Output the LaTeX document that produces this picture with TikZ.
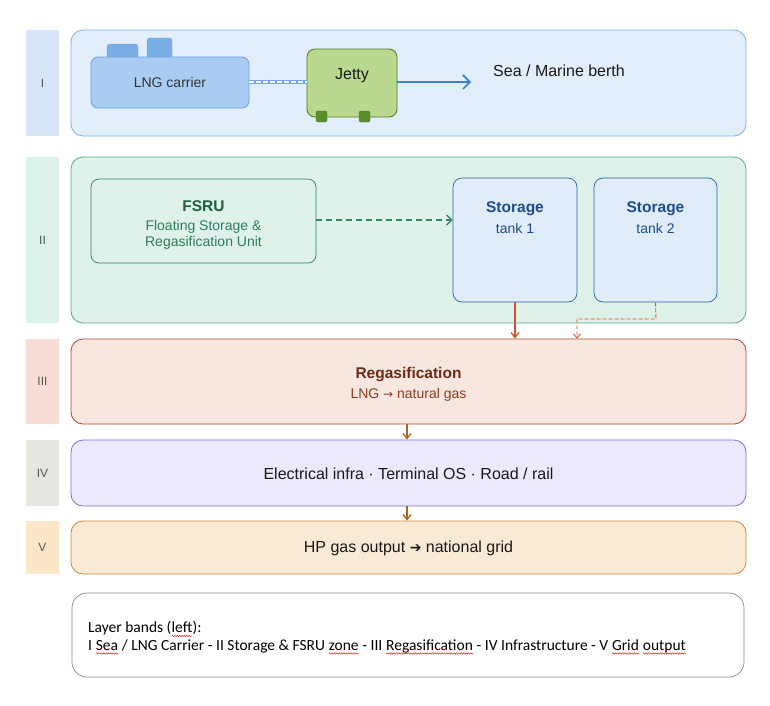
\documentclass[tikz,border=0pt]{standalone}
\usepackage{fontspec}
\setmainfont{Liberation Sans}
\newfontfamily\arrowfont{DejaVu Sans}
\newfontfamily\notefont{Carlito}
\usetikzlibrary{arrows.meta,decorations.pathmorphing}

\definecolor{SeaFill}{HTML}{E2EEF9}
\definecolor{SeaLine}{HTML}{7FB0E6}
\definecolor{SeaBand}{HTML}{D6E6F8}
\definecolor{ShipFill}{HTML}{AACCF2}
\definecolor{ShipLine}{HTML}{6AA0E0}
\definecolor{DomeFill}{HTML}{7BAEE6}
\definecolor{FlowBlue}{HTML}{3A7FD8}
\definecolor{JettyFill}{HTML}{B9D98E}
\definecolor{JettyLine}{HTML}{4A7A2A}
\definecolor{JettyFoot}{HTML}{5A8E2A}
\definecolor{ZoneFill}{HTML}{DFF2EA}
\definecolor{ZoneLine}{HTML}{52AE86}
\definecolor{ZoneBand}{HTML}{DCF1E8}
\definecolor{FsruLine}{HTML}{2E7D5A}
\definecolor{FsruText}{HTML}{1F5E42}
\definecolor{TankFill}{HTML}{E0ECF8}
\definecolor{TankLine}{HTML}{2A5EA8}
\definecolor{TankText}{HTML}{1F4C8A}
\definecolor{RegasFill}{HTML}{F8E7E0}
\definecolor{RegasLine}{HTML}{B0482C}
\definecolor{RegasBand}{HTML}{F8DDD6}
\definecolor{RegasText}{HTML}{6E2A14}
\definecolor{RegasSub}{HTML}{8E3A20}
\definecolor{FlowRed}{HTML}{D4502A}
\definecolor{FlowBrown}{HTML}{B0661A}
\definecolor{InfraFill}{HTML}{EBE9FC}
\definecolor{InfraLine}{HTML}{7A70D0}
\definecolor{InfraBand}{HTML}{E6E6E0}
\definecolor{GridFill}{HTML}{F9EAD6}
\definecolor{GridLine}{HTML}{C8883A}
\definecolor{GridBand}{HTML}{FBE6C8}
\definecolor{BandText}{HTML}{555555}
\definecolor{NoteLine}{HTML}{888888}
\definecolor{SpellRed}{HTML}{E03030}

% word with a spell-check squiggle under it
\newcommand{\spellword}[1]{\tikz[baseline=(sw.base)]{\node[inner sep=0pt, outer sep=0pt] (sw) {#1};
    \draw[SpellRed, line width=0.5pt, decorate, decoration={snake, amplitude=0.7pt, segment length=2.4pt}] ([yshift=-3pt]sw.base west) -- ([yshift=-3pt]sw.base east);}}

\begin{document}
\begin{tikzpicture}[x=1pt, y=-1pt,
    band/.style={minimum width=33pt, inner sep=0pt, text=BandText, font=\fontsize{12}{14}\selectfont},
    layer/.style={draw, rounded corners=12pt, line width=0.8pt, minimum width=675pt, inner sep=0pt},
    title/.style={font=\bfseries\fontsize{15.5}{18}\selectfont},
    sub/.style={font=\fontsize{14}{17}\selectfont},
    flowdown/.style={-{Straight Barb[length=5pt, width=8pt]}, line width=1.3pt}]
    \useasboundingbox (0,0) rectangle (770,705);

    % Layer bands on the left
    \node[band, fill=SeaBand, minimum height=106pt] (bandI) at (42.5,83) {I};
    \node[band, fill=ZoneBand, minimum height=166pt] (bandII) at (42.5,240) {II};
    \node[band, fill=RegasBand, minimum height=85pt] (bandIII) at (42.5,381.5) {III};
    \node[band, fill=InfraBand, minimum height=66pt] (bandIV) at (42.5,473) {IV};
    \node[band, fill=GridBand, minimum height=53pt] (bandV) at (42.5,547.5) {V};

    % Layer I: sea / marine berth
    \node[layer, draw=SeaLine, fill=SeaFill, minimum height=106pt] (sea) at (408.5,83) {};
    \node[draw=ShipLine, fill=DomeFill, rounded corners=3pt, minimum width=31pt, minimum height=19pt, inner sep=0pt] (domeA) at (122.5,53.5) {};
    \node[draw=ShipLine, fill=DomeFill, rounded corners=3pt, minimum width=25pt, minimum height=24pt, inner sep=0pt] (domeB) at (159.5,50) {};
    \node[draw=ShipLine, fill=ShipFill, rounded corners=7pt, line width=0.8pt, minimum width=158pt, minimum height=51pt, sub, text=black!80] (carrier) at (170,82.5) {LNG carrier};
    \node[draw=JettyLine, fill=JettyFill, rounded corners=8pt, line width=0.8pt, minimum width=90pt, minimum height=68pt, inner sep=0pt] (jetty) at (352,83) {};
    \node[font=\fontsize{16}{18}\selectfont, text=black!90] (jettytext) at (352,75.5) {Jetty};
    \node[fill=JettyFoot, draw=JettyLine, rounded corners=2pt, minimum size=11pt, inner sep=0pt] (footA) at (321.5,116.5) {};
    \node[fill=JettyFoot, draw=JettyLine, rounded corners=2pt, minimum size=11pt, inner sep=0pt] (footB) at (364.5,116.5) {};
    \node[font=\fontsize{16}{18}\selectfont, text=black!90, anchor=west, inner sep=0pt] (berth) at (493,70.5) {Sea / Marine berth};
    \coordinate (berthend) at (471,82);

    % Carrier to jetty hose and jetty to sea
    \draw[FlowBlue!70, line width=3.4pt] (carrier.east |- 0,82) -- (jetty.west |- 0,82);
    \draw[white, line width=1.1pt, dash pattern=on 5pt off 2pt] (carrier.east |- 0,82) -- (jetty.west |- 0,82);
    \draw[FlowBlue, line width=1.6pt, -{Straight Barb[length=7pt, width=14pt]}] (jetty.east |- 0,82) -- (berthend);

    % Layer II: storage & FSRU zone
    \node[layer, draw=ZoneLine, fill=ZoneFill, minimum height=166pt] (zone) at (408.5,240) {};
    \node[draw=FsruLine, fill=ZoneFill, rounded corners=8pt, line width=0.7pt, minimum width=225pt, minimum height=84pt] (fsru) at (203.5,221) {};
    \node[title, text=FsruText] (fsrutitle) at (203.5,206) {FSRU};
    \node[font=\fontsize{14}{16}\selectfont, text=FsruLine, align=center] (fsrusub) at (203.5,234.5) {Floating Storage \&\\Regasification Unit};
    \node[draw=TankLine, fill=TankFill, rounded corners=9pt, line width=0.7pt, minimum width=124pt, minimum height=124pt] (tankA) at (515,240) {};
    \node[draw=TankLine, fill=TankFill, rounded corners=9pt, line width=0.7pt, minimum width=123pt, minimum height=124pt] (tankB) at (655.5,240) {};
    \node[title, text=TankText] (tankAtitle) at (515,209) {Storage};
    \node[sub, text=TankText] (tankAsub) at (515,228) {tank 1};
    \node[title, text=TankText] (tankBtitle) at (655.5,209) {Storage};
    \node[sub, text=TankText] (tankBsub) at (655.5,228) {tank 2};

    % FSRU to storage
    \draw[FsruLine!80!ZoneLine, line width=1.4pt, dash pattern=on 6pt off 4pt, -{Straight Barb[length=5pt, width=10pt]}] (fsru.east |- 0,220) -- (tankA.west |- 0,220);

    % Layer III: regasification
    \node[layer, draw=RegasLine, fill=RegasFill, minimum height=85pt] (regas) at (408.5,381.5) {};
    \node[title, text=RegasText] (regastitle) at (408.5,374.5) {Regasification};
    \node[sub, text=RegasSub] (regassub) at (408.5,394.5) {LNG {\arrowfont\fontsize{12}{14}\selectfont →} natural gas};

    % Storage to regasification
    \coordinate (bendA) at (656,319);
    \coordinate (bendB) at (577,319);
    \draw[FlowRed, flowdown] (tankA.south) -- (regas.north -| tankA.south);
    \draw[FlowRed, line width=0.9pt, dash pattern=on 4pt off 2pt, -{Straight Barb[length=4pt, width=7pt]}] (tankB.south) -- (bendA) -- (bendB) -- (regas.north -| bendB);

    % Layer IV: infrastructure
    \node[layer, draw=InfraLine, fill=InfraFill, minimum height=66pt] (infra) at (408.5,473) {};
    \node[font=\fontsize{16}{18}\selectfont, text=black!90] (infratext) at (408.5,473.5) {Electrical infra · Terminal OS · Road / rail};

    % Layer V: grid output
    \node[layer, draw=GridLine, fill=GridFill, minimum height=53pt] (grid) at (408.5,547.5) {};
    \node[font=\fontsize{16}{18}\selectfont, text=black!90] (gridtext) at (408.5,548.5) {HP gas output {\arrowfont\fontsize{14}{16}\selectfont ➔} national grid};

    % Flow between layers
    \draw[FlowBrown, flowdown] (regas.south -| 407,0) -- (infra.north -| 407,0);
    \draw[FlowBrown, flowdown] (infra.south -| 407,0) -- (grid.north -| 407,0);

    % Note box
    \node[draw=NoteLine, fill=white, rounded corners=15pt, line width=0.7pt, minimum width=672pt, minimum height=84pt] (note) at (408,635) {};
    \node[font=\notefont\fontsize{15.5}{17.5}\selectfont, anchor=west, align=left, inner sep=0pt] (notetext) at (88,638) {Layer bands (\spellword{left}):\\I \spellword{Sea} / LNG Carrier - II Storage \& FSRU \spellword{zone} - III \spellword{Regasification} - IV Infrastructure - V \spellword{Grid} \spellword{output}};
\end{tikzpicture}
\end{document}
